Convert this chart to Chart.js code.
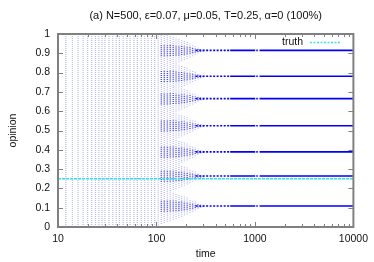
<!DOCTYPE html>
<html>
<head>
<meta charset="utf-8">
<script src="https://cdn.jsdelivr.net/npm/chart.js@4"></script>
<style>
  html, body { margin: 0; padding: 0; background: #fff; }
</style>
</head>
<body>
<canvas id="chart" width="374" height="262"></canvas>
<script>
// Data
const titleText = '(a) N=500, \u03b5=0.07, \u03bc=0.05, T=0.25, \u03b1=0 (100%)';
const xTickValues = [10, 100, 1000, 10000];
const yTickValues = [0, 0.1, 0.2, 0.3, 0.4, 0.5, 0.6, 0.7, 0.8, 0.9, 1];

// final opinion clusters
const clusters = [0.109, 0.264, 0.389, 0.525, 0.665, 0.781, 0.915];
const truthValue = 0.25;

// sampled time steps (the vertical stripes) and how far agents spread round each cluster
const stripeTimes = [10, 12, 14, 16, 18, 20, 22, 24, 26, 28, 30, 33, 36, 39, 42, 46, 50, 54, 59, 64,
    70, 76, 82, 89, 96, 104, 112, 120, 129, 138, 148, 158, 169, 180, 192, 205, 219, 233, 248, 264,
    281, 299];
const stripeSpread = [0.5, 0.5, 0.5, 0.5, 0.5, 0.5, 0.5, 0.5, 0.5, 0.5, 0.5, 0.5, 0.5, 0.5, 0.5, 0.5, 0.5, 0.5, 0.5, 0.5,
    0.5, 0.14, 0.13, 0.12, 0.11, 0.1, 0.094, 0.088, 0.082, 0.077, 0.072, 0.067, 0.062, 0.056, 0.05, 0.044, 0.037, 0.03, 0.023, 0.016,
    0.01, 0.006];
// denser core of each cluster
const coreSpread = [0, 0, 0, 0, 0, 0, 0, 0, 0, 0, 0, 0, 0, 0, 0, 0, 0, 0, 0, 0,
    0, 0, 0, 0, 0, 0, 0.03, 0.03, 0.03, 0.029, 0.028, 0.027, 0.026, 0.024, 0.022, 0.02, 0.017, 0.014, 0.011, 0.008,
    0.006, 0.004];

// settled clusters after convergence (time ranges)
const settledDotted = [250, 560];
const settledSolid = [[560, 1007], [1031, 1069], [1114, 10000]];
const timeRange = [10, 10000];

// Build line data with null gaps between segments
function segmentsToData(segments) {
    const out = [];
    segments.forEach(s => {
        out.push(s[0], s[1], {x: s[0].x, y: null});
    });
    return out;
}

function mergeIntervals(list) {
    list.sort((a, b) => a[0] - b[0]);
    const merged = [];
    list.forEach(iv => {
        const last = merged[merged.length - 1];
        if (last && iv[0] <= last[1]) last[1] = Math.max(last[1], iv[1]);
        else merged.push([iv[0], iv[1]]);
    });
    return merged;
}

function stripeSegments(spreads) {
    const segs = [];
    stripeTimes.forEach((t, i) => {
        const w = spreads[i];
        if (!w) return;
        const ivs = mergeIntervals(clusters.map(c => [Math.max(0, c - w), Math.min(1, c + w)]));
        ivs.forEach(iv => segs.push([{x: t, y: iv[0]}, {x: t, y: iv[1]}]));
    });
    return segmentsToData(segs);
}

function settledData(ranges) {
    const segs = [];
    clusters.forEach(c => ranges.forEach(r => segs.push([{x: r[0], y: c}, {x: r[1], y: c}])));
    return segmentsToData(segs);
}

const font = { family: '"Liberation Sans", Arial, sans-serif', size: 10.5 };

// Frame, mirrored inward ticks, title, axis titles and key
const decorPlugin = {
    id: 'decor',
    afterDatasetsDraw(chart) {
        const { ctx, chartArea: a, scales: { x, y } } = chart;
        ctx.save();
        ctx.strokeStyle = '#808080';
        ctx.lineWidth = 1;
        ctx.beginPath();
        yTickValues.forEach(v => {
            const py = Math.round(y.getPixelForValue(v)) + 0.5;
            ctx.moveTo(a.left, py); ctx.lineTo(a.left + 5, py);
            ctx.moveTo(a.right, py); ctx.lineTo(a.right - 5, py);
        });
        for (let d = 10; d < 10000; d *= 10) {
            for (let m = 1; m <= 10; m++) {
                const px = Math.round(x.getPixelForValue(d * m)) + 0.5;
                const len = (m === 1 || m === 10) ? 5 : 3;
                ctx.moveTo(px, a.bottom); ctx.lineTo(px, a.bottom - len);
                ctx.moveTo(px, a.top); ctx.lineTo(px, a.top + len);
            }
        }
        ctx.stroke();
        ctx.lineWidth = 2;
        ctx.strokeRect(a.left, a.top, a.right - a.left, a.bottom - a.top);

        ctx.fillStyle = '#111';
        ctx.font = '11px "Liberation Sans", Arial, sans-serif';
        ctx.textAlign = 'center';
        ctx.textBaseline = 'middle';
        ctx.fillText(titleText, (a.left + a.right) / 2, 16);
        ctx.font = '10.5px "Liberation Sans", Arial, sans-serif';
        ctx.fillText('time', (a.left + a.right) / 2, 254);
        ctx.save();
        ctx.translate(13, (a.top + a.bottom) / 2);
        ctx.rotate(-Math.PI / 2);
        ctx.fillText('opinion', 0, 0);
        ctx.restore();

        // key
        ctx.textAlign = 'right';
        ctx.fillText('truth', 303, 42);
        ctx.strokeStyle = '#40e0f0';
        ctx.lineWidth = 1.5;
        ctx.setLineDash([2, 1.5]);
        ctx.beginPath();
        ctx.moveTo(310, 42.5); ctx.lineTo(340, 42.5);
        ctx.stroke();
        ctx.restore();
    }
};

new Chart(document.getElementById('chart'), {
    type: 'line',
    data: {
        datasets: [
            {
                label: 'truth',
                data: [{x: timeRange[0], y: truthValue}, {x: timeRange[1], y: truthValue}],
                borderColor: '#30e0f0',
                borderWidth: 1.5,
                borderDash: [3, 1],
                pointRadius: 0
            },
            {
                label: 'settled',
                data: settledData(settledSolid),
                borderColor: '#0000ff',
                borderWidth: 1.6,
                pointRadius: 0,
                spanGaps: false
            },
            {
                label: 'settling',
                data: settledData([settledDotted]),
                borderColor: '#0000ff',
                borderWidth: 1.6,
                borderDash: [2, 1.5],
                pointRadius: 0,
                spanGaps: false
            },
            {
                label: 'cores',
                data: stripeSegments(coreSpread),
                borderColor: 'rgba(0, 0, 240, 0.6)',
                borderWidth: 1.5,
                borderDash: [1, 1],
                pointRadius: 0,
                spanGaps: false
            },
            {
                label: 'agents',
                data: stripeSegments(stripeSpread),
                borderColor: 'rgba(40, 40, 255, 0.33)',
                borderWidth: 1.2,
                borderDash: [1, 1],
                pointRadius: 0,
                spanGaps: false
            }
        ]
    },
    options: {
        responsive: false,
        animation: false,
        events: [],
        layout: { padding: { top: 34, right: 20, left: 0, bottom: 0 } },
        plugins: {
            legend: { display: false },
            tooltip: { enabled: false }
        },
        scales: {
            x: {
                type: 'logarithmic',
                min: timeRange[0],
                max: timeRange[1],
                grid: { display: false, drawTicks: false },
                border: { display: false },
                afterBuildTicks: scale => { scale.ticks = xTickValues.map(v => ({ value: v })); },
                afterFit: scale => { scale.height = 35; },
                ticks: {
                    font: font,
                    color: '#111',
                    padding: 6,
                    maxRotation: 0,
                    autoSkip: false,
                    callback: v => String(v)
                }
            },
            y: {
                type: 'linear',
                min: 0,
                max: 1,
                grid: { display: false, drawTicks: false },
                border: { display: false },
                afterBuildTicks: scale => { scale.ticks = yTickValues.map(v => ({ value: v })); },
                afterFit: scale => { scale.width = 58; },
                ticks: {
                    font: font,
                    color: '#111',
                    padding: 8,
                    callback: v => String(Math.round(v * 10) / 10)
                }
            }
        }
    },
    plugins: [decorPlugin]
});
</script>
</body>
</html>
